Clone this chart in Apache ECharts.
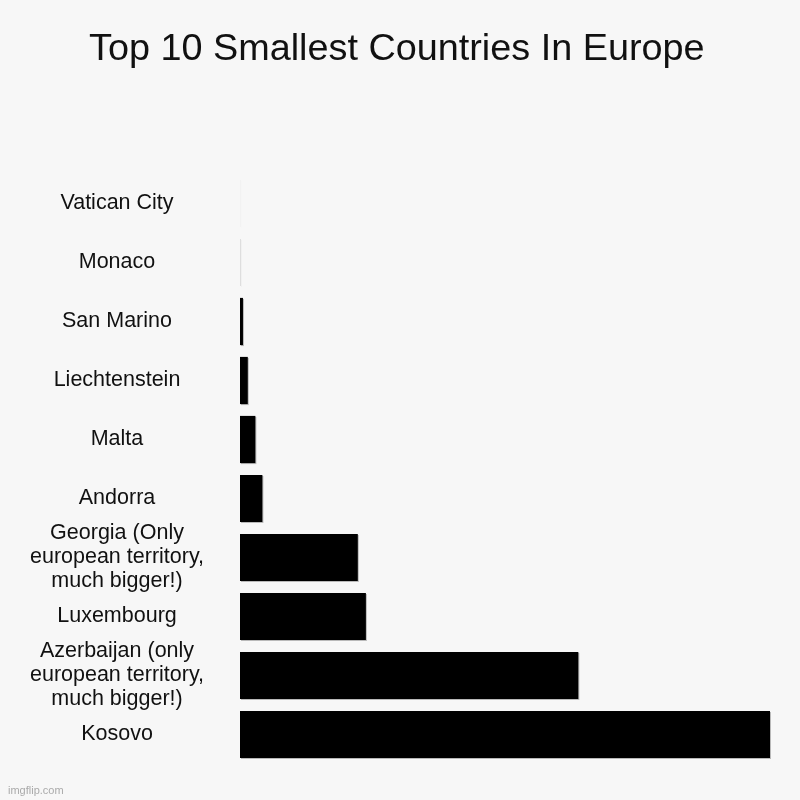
<!DOCTYPE html>
<html><head><meta charset="utf-8">
<script src="https://cdn.jsdelivr.net/npm/echarts@6/dist/echarts.min.js"></script>
<style>html,body{margin:0;padding:0;background:#f7f7f7;}#c{width:800px;height:800px;}</style>
</head><body><div id="c"></div>
<script>
const categories = ["Vatican City", "Monaco", "San Marino", "Liechtenstein", "Malta", "Andorra",
  "Georgia (Only\neuropean territory,\nmuch bigger!)", "Luxembourg",
  "Azerbaijan (only\neuropean territory,\nmuch bigger!)", "Kosovo"];
const areas = [0.44, 2.02, 61, 160, 316, 460, 2420, 2586, 6950, 10887];
const titleText = "Top 10 Smallest Countries In Europe";
const watermark = "imgflip.com";

const chart = echarts.init(document.getElementById('c'), null, {renderer: 'canvas'});
chart.setOption({
  backgroundColor: '#f7f7f7',
  animation: false,
  title: {
    text: titleText, left: 84, top: 26,
    textStyle: {fontFamily: 'Liberation Sans', fontSize: 37.8, fontWeight: 'normal', color: '#111'}
  },
  graphic: [{type: 'text', left: 8, top: 785, style: {text: watermark, fontFamily: 'Liberation Sans', fontSize: 11, fill: '#aaa'}}],
  grid: {left: 240, right: 30, top: 174, bottom: 36, containLabel: false},
  xAxis: {type: 'value', min: 0, max: 10887, show: false},
  yAxis: {
    type: 'category', data: categories, inverse: true,
    axisLine: {show: false}, axisTick: {show: false}, splitLine: {show: false},
    axisLabel: {align: 'center', margin: 123, fontFamily: 'Liberation Sans', fontSize: 21.5, color: '#111', lineHeight: 24,
      padding: [6, 0, 0, 0], backgroundColor: 'rgba(0,0,0,0)'}
  },
  series: [{
    type: 'bar', data: areas, barCategoryGap: '20%',
    itemStyle: {color: '#000', shadowColor: 'rgba(0,0,0,0.25)', shadowOffsetX: 1, shadowOffsetY: 1, shadowBlur: 0}
  }]
});
</script></body></html>
